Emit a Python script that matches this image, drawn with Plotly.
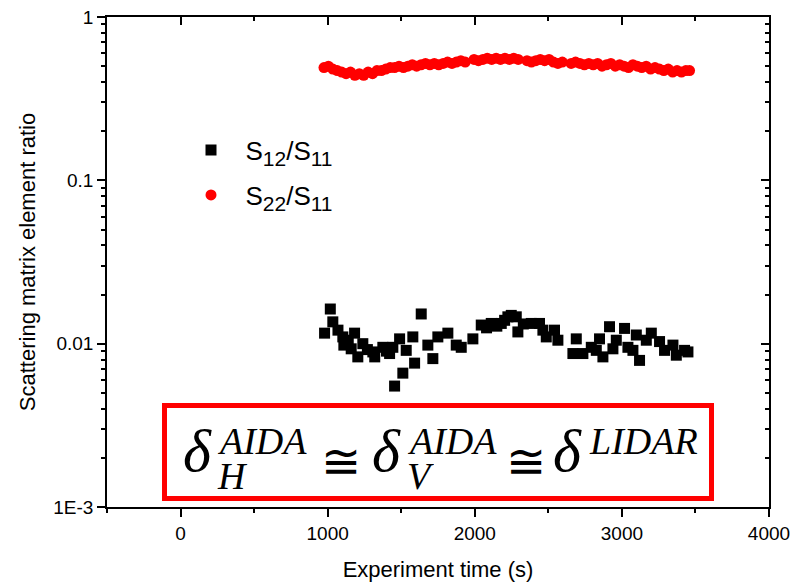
import plotly.graph_objects as go

# ---- data ----
s12_x = [979, 1018, 1035, 1070, 1103, 1110, 1140, 1160, 1183, 1205, 1239, 1270, 1307, 1320,
         1375, 1400, 1421, 1443, 1455, 1489, 1511, 1534, 1579, 1591, 1636, 1681, 1715, 1749,
         1817, 1874, 1908, 1987, 2044, 2080, 2112, 2150, 2180, 2203, 2225, 2248, 2282, 2293,
         2330, 2384, 2440, 2463, 2486, 2542, 2565, 2667, 2690, 2735, 2792, 2826, 2848, 2871,
         2916, 2939, 2962, 3018, 3041, 3075, 3098, 3120, 3166, 3200, 3256, 3290, 3347, 3370,
         3426, 3449]
s12_y = [0.0116, 0.0163, 0.0136, 0.0121, 0.0110, 0.0098, 0.0105, 0.0093, 0.0116, 0.0083,
         0.0100, 0.0092, 0.0089, 0.0083, 0.0095, 0.0090, 0.0087, 0.0095, 0.0055, 0.0107,
         0.0066, 0.0091, 0.0110, 0.0076, 0.0152, 0.0098, 0.0081, 0.0110, 0.0116, 0.0098,
         0.0095, 0.0107, 0.0130, 0.0125, 0.0133, 0.0128, 0.0133, 0.0139, 0.0146, 0.0149,
         0.0146, 0.0118, 0.0132, 0.0133, 0.0133, 0.0121, 0.0110, 0.0121, 0.0105, 0.0087,
         0.0107, 0.0087, 0.0095, 0.0091, 0.0107, 0.0083, 0.0127, 0.0093, 0.0105, 0.0124,
         0.0095, 0.0091, 0.0113, 0.0079, 0.0105, 0.0116, 0.0103, 0.0091, 0.0098, 0.0085,
         0.0091, 0.0089]

s22_x = [975, 1005, 1035, 1065, 1095, 1125, 1155, 1185, 1215, 1245, 1275, 1305, 1335, 1365,
         1395, 1425, 1455, 1485, 1515, 1545, 1575, 1605, 1635, 1665, 1695, 1725, 1755, 1785,
         1815, 1845, 1875, 1905, 1935, 1995, 2025, 2055, 2085, 2115, 2145, 2175, 2205, 2235,
         2265, 2295, 2355, 2385, 2415, 2445, 2475, 2505, 2535, 2565, 2595, 2655, 2685, 2715,
         2745, 2775, 2805, 2835, 2865, 2895, 2925, 2955, 2985, 3015, 3045, 3075, 3105, 3135,
         3165, 3195, 3225, 3255, 3285, 3315, 3345, 3375, 3405, 3435, 3460]
s22_y = [0.49, 0.50, 0.48, 0.47, 0.46, 0.45, 0.46, 0.44, 0.45, 0.44, 0.46, 0.45, 0.47, 0.47,
         0.48, 0.49, 0.49, 0.50, 0.49, 0.50, 0.51, 0.50, 0.51, 0.52, 0.51, 0.52, 0.51, 0.52,
         0.53, 0.52, 0.53, 0.54, 0.53, 0.55, 0.54, 0.55, 0.56, 0.55, 0.56, 0.55, 0.56, 0.55,
         0.56, 0.55, 0.54, 0.53, 0.54, 0.55, 0.54, 0.55, 0.53, 0.52, 0.53, 0.52, 0.53, 0.52,
         0.51, 0.52, 0.51, 0.52, 0.50, 0.51, 0.52, 0.50, 0.51, 0.50, 0.49, 0.51, 0.50, 0.49,
         0.50, 0.48, 0.49, 0.48, 0.47, 0.48, 0.46, 0.47, 0.46, 0.47, 0.47]

y_tickvals = [0.001, 0.01, 0.1, 1]
y_ticktext = ["1E-3", "0.01", "0.1", "1"]
SUB = "<sub><span style='font-size:21px'>{}</span></sub>"
s12_name = "\u00a0\u00a0S" + SUB.format("12") + "/S" + SUB.format("11")
s22_name = "\u00a0\u00a0S" + SUB.format("22") + "/S" + SUB.format("11")
x_title = "Experiment time (s)"
y_title = "Scattering matrix element ratio"

# ---- layout geometry (pixels) ----
W, H = 792, 585
L, R, T, B = 107, 23, 17, 78
PW, PH = W - L - R, H - T - B


def px(xp):
    return (xp - L) / PW


def py(yp):
    return (H - B - yp) / PH


SANS = "Liberation Sans, Arial, sans-serif"
SERIF = "Liberation Serif, Times New Roman, serif"
MATH = "DejaVu Serif, Liberation Serif, serif"

fig = go.Figure()
fig.add_trace(go.Scatter(x=s12_x, y=s12_y, mode="markers", name=s12_name,
                         marker=dict(symbol="square", size=11, color="black"),
                         legend="legend"))
fig.add_trace(go.Scatter(x=s22_x, y=s22_y, mode="markers", name=s22_name,
                         marker=dict(symbol="circle", size=11, color="#ff0000"),
                         legend="legend2"))
fig.add_trace(go.Scatter(x=[], y=[], xaxis="x2", yaxis="y2", showlegend=False))

axis_common = dict(showgrid=False, zeroline=False, linecolor="black", linewidth=1.5,
                   tickcolor="black", tickwidth=1.5, ticklen=8, automargin=False)

fig.update_layout(
    width=W, height=H, autosize=False,
    margin=dict(l=L, r=R, t=T, b=B, autoexpand=False),
    paper_bgcolor="white", plot_bgcolor="white",
    font=dict(family=SANS, color="black", size=19),
    xaxis=dict(range=[-500, 4000], tick0=0, dtick=1000, ticks="outside", mirror=True,
               showline=True,
               minor=dict(dtick=500, ticks="outside", ticklen=4, tickcolor="black", tickwidth=1.5),
               title=dict(text=x_title, font=dict(size=22), standoff=19),
               tickfont=dict(size=19), **axis_common),
    yaxis=dict(type="log", range=[-3, 0], tickmode="array", tickvals=y_tickvals,
               ticktext=y_ticktext, ticks="outside", mirror=True, showline=True,
               minor=dict(dtick="D1", ticks="outside", ticklen=4, tickcolor="black", tickwidth=1.5),
               title=dict(text=y_title, font=dict(size=22), standoff=12),
               tickfont=dict(size=19), **axis_common),
    xaxis2=dict(overlaying="x", side="top", anchor="y", range=[-500, 4000], tick0=0, dtick=1000,
                ticks="inside", showticklabels=False, showline=False,
                minor=dict(dtick=500, ticks="inside", ticklen=4, tickcolor="black", tickwidth=1.5),
                **axis_common),
    yaxis2=dict(overlaying="y", side="right", anchor="x", type="log", range=[-3, 0],
                tickmode="array", tickvals=y_tickvals, ticks="inside", showticklabels=False,
                showline=False,
                minor=dict(dtick="D1", ticks="inside", ticklen=4, tickcolor="black", tickwidth=1.5),
                **axis_common),
    legend=dict(x=px(191), y=py(150), xanchor="left", yanchor="middle",
                bgcolor="rgba(0,0,0,0)", font=dict(size=26, family=SANS)),
    legend2=dict(x=px(191), y=py(195), xanchor="left", yanchor="middle",
                 bgcolor="rgba(0,0,0,0)", font=dict(size=26, family=SANS)),
    showlegend=True,
)

# red framed box
fig.add_shape(type="rect", xref="paper", yref="paper",
              x0=px(164.5), x1=px(711.5), y0=py(498.5), y1=py(405.5),
              line=dict(color="#ff0000", width=5), fillcolor="rgba(0,0,0,0)")

BIG, SMALL, EQ = 60, 38, 48
pieces = [
    ("<i>\u03b4</i>", 183, 451, BIG, SERIF, None),
    ("<i>AIDA</i>", 217, 441, SMALL, SERIF, 31),
    ("<i>H</i>", 217, 475, SMALL, SERIF, 31),
    ("\u2245", 321, 461, EQ, MATH, None),
    ("<i>\u03b4</i>", 372, 451, BIG, SERIF, None),
    ("<i>AIDA</i>", 407, 441, SMALL, SERIF, 31),
    ("<i>V</i>", 407, 475, SMALL, SERIF, 31),
    ("\u2245", 506, 461, EQ, MATH, None),
    ("<i>\u03b4</i>", 553, 451, BIG, SERIF, None),
    ("<i>LIDAR</i>", 589, 441, SMALL, SERIF, None),
]
for txt, xx, yy, size, fam, hgt in pieces:
    fig.add_annotation(text=txt, xref="paper", yref="paper", x=px(xx), y=py(yy),
                       xanchor="left", yanchor="middle", showarrow=False,
                       font=dict(family=fam, size=size, color="black"),
                       borderpad=0, borderwidth=0, height=hgt, valign="middle")

fig.write_html("out.html")
